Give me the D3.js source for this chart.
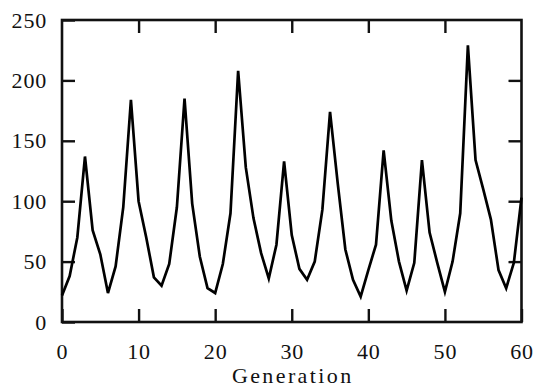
<!DOCTYPE html>
<html>
<head>
<meta charset="utf-8">
<script src="https://cdn.jsdelivr.net/npm/d3@7"></script>
<style>
    html, body { margin: 0; padding: 0; background: #fff; }
    svg text { font-family: "Liberation Serif", "DejaVu Serif", serif; fill: #111; }
</style>
</head>
<body>
<div id="chart"></div>
<script>
(function () {

    /* data: population per generation */
    var generations = d3.range(0, 61);
    var population = [
        22, 38, 70, 137, 76, 56, 24, 46, 95, 184,
        100, 70, 37, 30, 48, 95, 185, 98, 54, 28,
        24, 48, 90, 208, 128, 86, 57, 36, 64, 133,
        72, 44, 35, 50, 93, 174, 115, 60, 35, 21,
        43, 64, 142, 84, 50, 26, 49, 134, 74, 49,
        25, 50, 90, 229, 134, 110, 85, 43, 28, 49,
        103
    ];
    var xTicks = [0, 10, 20, 30, 40, 50, 60];
    var yTicks = [0, 50, 100, 150, 200, 250];
    var xLabel = "Generation";

    /* layout */
    var W = 536, H = 389;
    var LEFT = 62, RIGHT = 521.5, TOP = 20, BOTTOM = 322;
    var TICK = 13;
    var FONT = "'Liberation Serif', 'DejaVu Serif', serif";

    var svg = d3.select("#chart").append("svg")
        .attr("width", W)
        .attr("height", H);

    var x = d3.scaleLinear().domain([0, 60]).range([LEFT, RIGHT]);
    var y = d3.scaleLinear().domain([0, 250]).range([BOTTOM, TOP]);

    function styleAxis(g) {
        g.attr("font-family", FONT).attr("font-size", 22);
        g.select(".domain").remove();
        g.selectAll(".tick line").attr("stroke", "#111").attr("stroke-width", 2.4);
        g.selectAll(".tick text").attr("fill", "#111").attr("letter-spacing", 0.8);
    }

    /* bottom axis with labels */
    svg.append("g")
        .attr("transform", "translate(0," + BOTTOM + ")")
        .call(d3.axisBottom(x).tickValues(xTicks).tickSize(-TICK).tickSizeOuter(0).tickPadding(21))
        .call(styleAxis);

    /* left axis with labels */
    svg.append("g")
        .attr("transform", "translate(" + LEFT + ",0)")
        .call(d3.axisLeft(y).tickValues(yTicks).tickSize(-TICK).tickSizeOuter(0).tickPadding(15))
        .call(styleAxis);

    /* mirrored ticks, top and right */
    svg.append("g")
        .attr("transform", "translate(0," + TOP + ")")
        .call(d3.axisTop(x).tickValues(xTicks.slice(1, -1)).tickSize(-TICK).tickFormat(""))
        .call(styleAxis);

    svg.append("g")
        .attr("transform", "translate(" + RIGHT + ",0)")
        .call(d3.axisRight(y).tickValues(yTicks.slice(1, -1)).tickSize(-TICK).tickFormat(""))
        .call(styleAxis);

    /* frame */
    svg.append("rect")
        .attr("x", LEFT).attr("y", TOP)
        .attr("width", RIGHT - LEFT).attr("height", BOTTOM - TOP)
        .attr("fill", "none")
        .attr("stroke", "#111")
        .attr("stroke-width", 2.6);

    /* series */
    var line = d3.line()
        .x(function (d, i) { return x(generations[i]); })
        .y(function (d) { return y(d); });

    svg.append("path")
        .datum(population)
        .attr("fill", "none")
        .attr("stroke", "#000")
        .attr("stroke-width", 2.7)
        .attr("stroke-linejoin", "miter")
        .attr("d", line);

    /* x label */
    svg.append("text")
        .attr("x", (LEFT + RIGHT) / 2 + 1)
        .attr("y", 383)
        .attr("text-anchor", "middle")
        .attr("font-size", 22)
        .attr("letter-spacing", 2.4)
        .text(xLabel);

}());
</script>
</body>
</html>
